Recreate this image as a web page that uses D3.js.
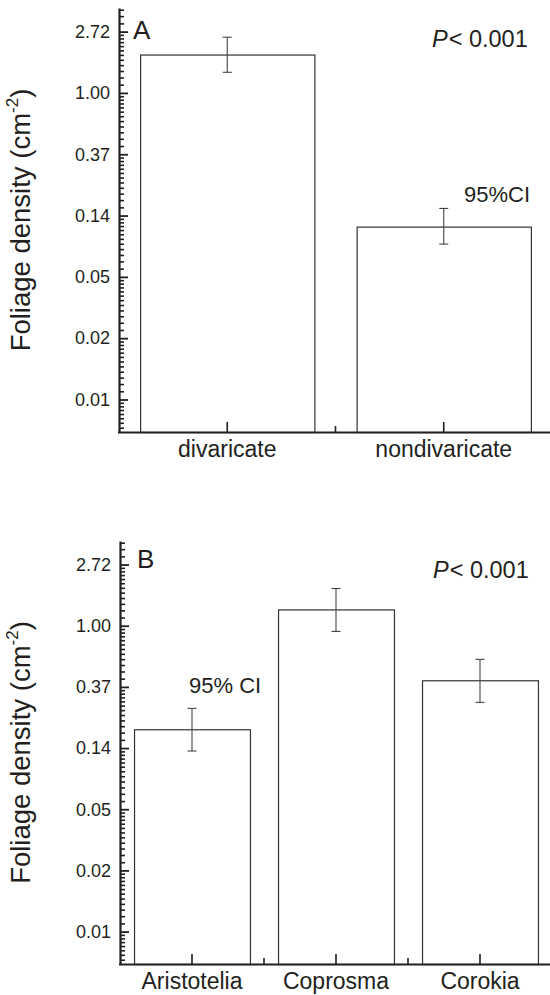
<!DOCTYPE html>
<html>
<head>
<meta charset="utf-8">
<script src="https://cdn.jsdelivr.net/npm/d3@7"></script>
<style>
  html, body { margin: 0; padding: 0; background: #fff; }
  svg { display: block; font-family: "Liberation Sans", Arial, sans-serif; }
</style>
</head>
<body>
<svg id="chart" width="550" height="995"></svg>
<script>
// ---- data ----
const yTickExps = [-5, -4, -3, -2, -1, 0, 1];
const yTickLabels = ["0.01", "0.02", "0.05", "0.14", "0.37", "1.00", "2.72"];

const catsA = ["divaricate", "nondivaricate"];
const meanA = [1.87, 0.113];
const lowA  = [1.40, 0.085];
const highA = [2.48, 0.152];

const catsB = ["Aristotelia", "Coprosma", "Corokia"];
const meanB = [0.184, 1.305, 0.410];
const lowB  = [0.129, 0.911, 0.286];
const highB = [0.259, 1.837, 0.577];

const panelLetters = ["A", "B"];
const pText = "< 0.001";
const ciTextA = "95%CI";
const ciTextB = "95% CI";

// ---- drawing ----
const svg = d3.select("#chart");
const ink = "#231f20";
const E = Math.E;
const domainLog = [Math.exp(-5.53), Math.exp(1.385)];

function minorTicks() {
  const out = [];
  for (let k = -6; k <= 1; k++) {
    for (let j = 1; j <= 11; j++) {
      const v = Math.exp(k) * (1 + j * (E - 1) / 12);
      if (v > domainLog[0] && v < domainLog[1]) out.push(v);
    }
  }
  return out;
}

function panel(cfg) {
  const g = svg.append("g");
  const y = d3.scaleLog().base(E).domain(domainLog).range([cfg.bottom, cfg.top]);
  const x = d3.scaleBand().domain(cfg.cats).range([cfg.left, 552])
    .paddingInner(0.195).paddingOuter(0.0975);

  // bars
  g.selectAll("rect.bar").data(cfg.cats).enter().append("rect")
    .attr("x", d => x(d) + 0.5)
    .attr("width", x.bandwidth())
    .attr("y", (d, i) => y(cfg.mean[i]) + 0.5)
    .attr("height", (d, i) => cfg.bottom - y(cfg.mean[i]))
    .attr("fill", "#fff").attr("stroke", "#333").attr("stroke-width", 1.2);

  // error bars
  const eb = g.selectAll("g.err").data(cfg.cats).enter().append("g")
    .attr("stroke", "#444").attr("stroke-width", 1.1);
  eb.append("line")
    .attr("x1", d => x(d) + x.bandwidth() / 2).attr("x2", d => x(d) + x.bandwidth() / 2)
    .attr("y1", (d, i) => y(cfg.high[i])).attr("y2", (d, i) => y(cfg.low[i]));
  eb.append("line")
    .attr("x1", d => x(d) + x.bandwidth() / 2 - 4.5).attr("x2", d => x(d) + x.bandwidth() / 2 + 4.5)
    .attr("y1", (d, i) => y(cfg.high[i])).attr("y2", (d, i) => y(cfg.high[i]));
  eb.append("line")
    .attr("x1", d => x(d) + x.bandwidth() / 2 - 4.5).attr("x2", d => x(d) + x.bandwidth() / 2 + 4.5)
    .attr("y1", (d, i) => y(cfg.low[i])).attr("y2", (d, i) => y(cfg.low[i]));

  // y axis minor ticks
  g.append("g").attr("transform", `translate(${cfg.left},0)`)
    .call(d3.axisLeft(y).tickValues(minorTicks()).tickSize(-5).tickFormat(""))
    .call(a => a.select(".domain").remove())
    .call(a => a.selectAll("line").attr("stroke", ink).attr("stroke-width", 1.6));

  // y axis major
  const yMajor = yTickExps.map(k => Math.exp(k));
  g.append("g").attr("transform", `translate(${cfg.left},0)`)
    .call(d3.axisLeft(y).tickValues(yMajor).tickSize(-9).tickSizeOuter(0).tickPadding(9)
      .tickFormat((d, i) => yTickLabels[i]))
    .call(a => a.select(".domain").attr("stroke", ink).attr("stroke-width", 2.2))
    .call(a => a.selectAll(".tick line").attr("stroke", ink).attr("stroke-width", 1.8))
    .call(a => a.selectAll("text").attr("font-size", 18).attr("fill", ink)
      .attr("font-family", "Liberation Sans, Arial, sans-serif"));

  // x axis minor ticks (between categories)
  const mids = cfg.cats.slice(1).map(c => x(c) - x.step() * x.paddingInner() / 2);
  g.selectAll("line.xminor").data(mids).enter().append("line")
    .attr("x1", d => d).attr("x2", d => d)
    .attr("y1", cfg.bottom).attr("y2", cfg.bottom - 6)
    .attr("stroke", ink).attr("stroke-width", 1.6);

  // x axis
  g.append("g").attr("transform", `translate(0,${cfg.bottom})`)
    .call(d3.axisBottom(x).tickSize(-10).tickSizeOuter(0).tickPadding(9))
    .call(a => a.select(".domain").attr("stroke", ink).attr("stroke-width", 2.2)
      .attr("d", `M${cfg.left - 1},0.5H560`))
    .call(a => a.selectAll(".tick line").attr("stroke", ink).attr("stroke-width", 1.6))
    .call(a => a.selectAll("text").attr("font-size", 23).attr("fill", ink)
      .attr("font-family", "Liberation Sans, Arial, sans-serif"));

  // panel letter
  g.append("text").attr("x", cfg.letterX).attr("y", cfg.letterY)
    .attr("font-size", 26).attr("fill", ink).text(cfg.letter);

  // P value
  const pt = g.append("text").attr("x", cfg.pX).attr("y", cfg.pY)
    .attr("font-size", 23.5).attr("fill", ink);
  pt.append("tspan").attr("font-style", "italic").text("P");
  pt.append("tspan").attr("dx", 1).text(pText);

  // CI label
  g.append("text").attr("x", cfg.ciX).attr("y", cfg.ciY)
    .attr("font-size", 22).attr("fill", ink).text(cfg.ciText);

  // y label
  const yl = g.append("text")
    .attr("transform", `translate(30,${(cfg.top + cfg.bottom) / 2}) rotate(-90)`)
    .attr("text-anchor", "middle").attr("font-size", 27.5).attr("fill", ink);
  yl.append("tspan").text("Foliage density (cm");
  yl.append("tspan").attr("font-size", 17).attr("dy", -12).text("-2");
  yl.append("tspan").attr("dy", 12).text(")");
}

panel({
  top: 8, bottom: 432, left: 119,
  cats: catsA, mean: meanA, low: lowA, high: highA,
  letter: panelLetters[0], letterX: 133, letterY: 39,
  pX: 432, pY: 47, ciText: ciTextA, ciX: 464, ciY: 202
});
panel({
  top: 541, bottom: 964, left: 120,
  cats: catsB, mean: meanB, low: lowB, high: highB,
  letter: panelLetters[1], letterX: 137, letterY: 568,
  pX: 433, pY: 578, ciText: ciTextB, ciX: 189, ciY: 693
});
</script>
</body>
</html>
